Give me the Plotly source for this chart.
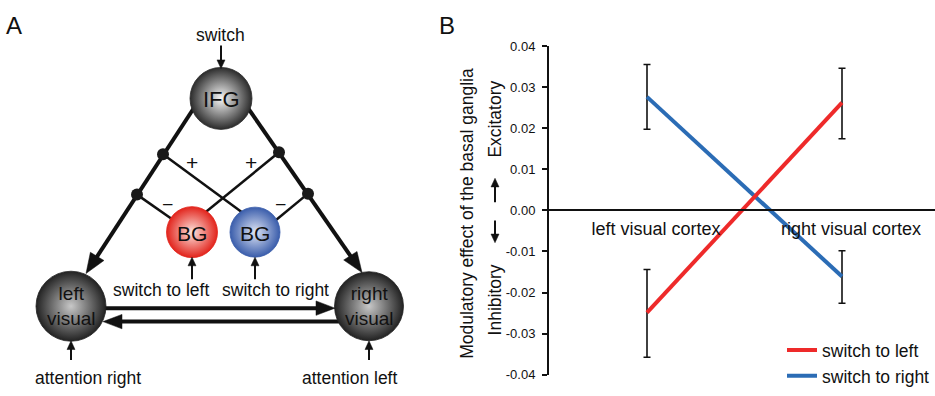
import plotly.graph_objects as go
import math

# ---------------- data (panel B) ----------------
categories = ["left visual cortex", "right visual cortex"]
switch_to_left = [-0.0249, 0.0263]
switch_to_left_err_up = [0.0105, 0.0084]
switch_to_left_err_down = [0.0109, 0.0088]
switch_to_right = [0.0277, -0.0161]
switch_to_right_err_up = [0.0079, 0.0063]
switch_to_right_err_down = [0.0079, 0.0065]
y_tick_vals = [-0.04, -0.03, -0.02, -0.01, 0.0, 0.01, 0.02, 0.03, 0.04]
y_tick_text = ["-0.04", "-0.03", "-0.02", "-0.01", "0.00", "0.01", "0.02", "0.03", "0.04"]

W, H = 935, 396
FONT = "Liberation Sans, Arial, sans-serif"
INK = "#111111"
RED = "#ee2a2a"
BLUE = "#2b6cb5"

fig = go.Figure()

# ---------------- panel B traces ----------------
fig.add_trace(go.Scatter(
    x=categories, y=switch_to_right, mode="lines", name="switch to right",
    line=dict(color=BLUE, width=4), legendrank=2,
    error_y=dict(type="data", array=switch_to_right_err_up,
                 arrayminus=switch_to_right_err_down, color=INK, thickness=1.6, width=3.5),
    xaxis="x", yaxis="y"))
fig.add_trace(go.Scatter(
    x=categories, y=switch_to_left, mode="lines", name="switch to left",
    line=dict(color=RED, width=4), legendrank=1,
    error_y=dict(type="data", array=switch_to_left_err_up,
                 arrayminus=switch_to_left_err_down, color=INK, thickness=1.6, width=3.5),
    xaxis="x", yaxis="y"))

# ---------------- panel A diagram (pixel axis x2/y2) ----------------
shapes = []
annotations = []


def seg(x0, y0, x1, y1, w, layer="below"):
    shapes.append(dict(type="line", xref="x2", yref="y2", x0=x0, y0=y0, x1=x1, y1=y1,
                       line=dict(color=INK, width=w), layer=layer))


def arrow(x0, y0, tx, ty, w, L, Wd):
    dx, dy = tx - x0, ty - y0
    n = math.hypot(dx, dy)
    ux, uy = dx / n, dy / n
    bx, by = tx - ux * L, ty - uy * L
    ex, ey = tx - ux * (L - 3), ty - uy * (L - 3)
    seg(x0, y0, ex, ey, w)
    px, py = -uy * Wd / 2, ux * Wd / 2
    path = f"M {tx},{ty} L {bx + px},{by + py} L {bx - px},{by - py} Z"
    shapes.append(dict(type="path", xref="x2", yref="y2", path=path,
                       fillcolor=INK, line=dict(color=INK, width=0.5), layer="above"))


def text(x, y, s, size, angle=0):
    annotations.append(dict(x=x, y=y, xref="x2", yref="y2", text=s, showarrow=False,
                            font=dict(family=FONT, size=size, color=INK),
                            textangle=angle, xanchor="center", yanchor="middle"))


# thick pathways
arrow(195.2, 102.9, 86, 277, 4, 21, 16)
arrow(246.8, 103.2, 362, 276, 4, 21, 16)
# horizontal connections
arrow(100, 313, 335, 313, 4, 19, 15)
arrow(340, 327, 103, 327, 4, 19, 15)
# thin cross lines
seg(163, 153, 244, 215, 2.5)
seg(279, 151, 203, 215.5, 2.5)
seg(137, 195, 174, 222, 2.5)
seg(308, 194, 273, 224, 2.5)
# inputs
arrow(221, 40, 221, 64, 2, 9, 8)
arrow(192, 283, 192, 260, 2, 9, 8)
arrow(255, 283, 255, 260, 2, 9, 8)
arrow(71, 367, 71, 347, 2, 9, 8)
arrow(369, 367, 369, 347, 2, 9, 8)

# junction dots
fig.add_trace(go.Scatter(x=[163, 279, 137, 308], y=[153, 151, 195, 194], mode="markers",
                         marker=dict(size=12, color="#1a1a1a"), showlegend=False,
                         hoverinfo="skip", xaxis="x2", yaxis="y2"))
# spheres
spheres = [
    (221, 95, 62, "#2b2b2b", "#f8f8f8"),
    (192, 234, 51, "#e2241c", "#fde4de"),
    (255, 234, 50, "#3a5dab", "#dfe5f5"),
    (71, 311, 70, "#222222", "#c8c8c8"),
    (369, 311, 69, "#222222", "#c8c8c8"),
]
for sx, sy, ss, c0, c1 in spheres:
    fig.add_trace(go.Scatter(x=[sx], y=[sy], mode="markers",
                             marker=dict(size=ss, color=c0,
                                         gradient=dict(type="radial", color=c1),
                                         line=dict(color=c0, width=0.8)),
                             showlegend=False, hoverinfo="skip", xaxis="x2", yaxis="y2"))

text(221, 96, "IFG", 22)
text(192, 235, "BG", 21)
text(255, 235, "BG", 21)
text(71, 311, "left<br>visual", 19)
text(369, 311, "right<br>visual", 19)
text(220, 29, "switch", 17.5)
text(161, 294, "switch to left", 17.5)
text(275, 294, "switch to right", 17.5)
text(87.5, 386, "attention right", 17.5)
text(349, 386, "attention left", 17.5)
text(192, 162, "+", 21)
text(251, 162, "+", 21)
text(168, 204, "–", 17)
text(281, 204, "–", 17)
text(14, 19, "A", 24)
text(447, 19, "B", 24)

# panel B side labels
text(467, 215, "Modulatory effect of the basal ganglia", 17.5, angle=-90)
text(495, 117, "Excitatory", 17.5, angle=-90)
text(495, 305, "Inhibitory", 17.5, angle=-90)
arrow(495, 203, 495, 178, 2, 9, 8)
arrow(495, 222, 495, 245, 2, 9, 8)

# ---------------- layout ----------------
px_unit = 842 - 647
x_lo = -(647 - 549) / px_unit
x_hi = (935 - 647) / px_unit

fig.update_layout(
    width=W, height=H, margin=dict(l=0, r=0, t=0, b=0),
    paper_bgcolor="white", plot_bgcolor="rgba(0,0,0,0)",
    font=dict(family=FONT, color=INK),
    shapes=shapes, annotations=annotations,
    showlegend=True,
    legend=dict(x=782 / W, y=1 - 338 / H, xanchor="left", yanchor="top",
                bgcolor="rgba(0,0,0,0)", font=dict(family=FONT, size=17.5, color=INK),
                itemwidth=30, tracegroupgap=0),
    xaxis=dict(domain=[549 / W, 1.0], type="category", range=[x_lo, x_hi],
               anchor="free", position=1 - 211.5 / H,
               showline=True, linecolor=INK, linewidth=2, ticks="",
               showgrid=False, zeroline=False,
               tickfont=dict(family=FONT, size=18, color=INK),
               ticklabelshift=9, ticklabelstandoff=2),
    yaxis=dict(domain=[1 - 382 / H, 1 - 41 / H], range=[-0.04, 0.04], anchor="x",
               tickvals=y_tick_vals, ticktext=y_tick_text,
               ticks="outside", ticklen=5, tickwidth=2, tickcolor=INK,
               showline=True, linecolor=INK, linewidth=2,
               showgrid=False, zeroline=False, ticklabelstandoff=4,
               tickfont=dict(family=FONT, size=13, color=INK)),
    xaxis2=dict(domain=[0, 1], range=[0, W], visible=False, anchor="y2", fixedrange=True),
    yaxis2=dict(domain=[0, 1], range=[H, 0], visible=False, anchor="x2", fixedrange=True),
)

fig.write_html(
    "out.html",
    config={"displayModeBar": False},
    post_script="document.body.style.margin='0';document.body.style.overflow='hidden';",
)
